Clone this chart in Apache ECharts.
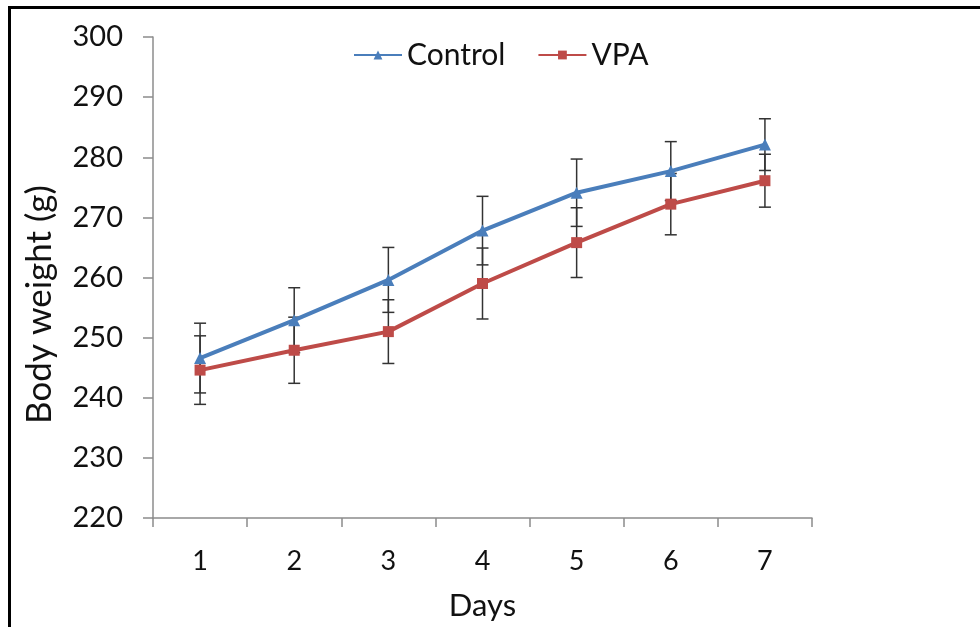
<!DOCTYPE html>
<html>
<head>
<meta charset="utf-8">
<script src="https://cdn.jsdelivr.net/npm/echarts@6/dist/echarts.min.js"></script>
<style>html,body{margin:0;padding:0;background:#fff}#c{width:980px;height:627px}</style>
</head>
<body>
<div id="c"></div>
<script>
var days = ['1','2','3','4','5','6','7'];
var controlMean = [246.6, 252.9, 259.6, 267.8, 274.1, 277.7, 282.1];
var controlErr  = [5.8, 5.4, 5.4, 5.7, 5.6, 4.9, 4.3];
var vpaMean = [244.6, 247.9, 251.0, 259.0, 265.8, 272.2, 276.1];
var vpaErr  = [5.7, 5.5, 5.3, 5.9, 5.8, 5.1, 4.4];

var FONT = 'Lato';
function errData(mean, err) {
  return mean.map(function (m, i) { return [i, m - err[i], m + err[i]]; });
}
function errRender(params, api) {
  var x = api.value(0);
  var lo = api.coord([x, api.value(1)]);
  var hi = api.coord([x, api.value(2)]);
  var w = 6;
  var st = { stroke: '#333', lineWidth: 1.5 };
  return {
    type: 'group',
    children: [
      { type: 'line', shape: { x1: hi[0], y1: hi[1], x2: lo[0], y2: lo[1] }, style: st },
      { type: 'line', shape: { x1: hi[0] - w, y1: hi[1], x2: hi[0] + w, y2: hi[1] }, style: st },
      { type: 'line', shape: { x1: lo[0] - w, y1: lo[1], x2: lo[0] + w, y2: lo[1] }, style: st }
    ]
  };
}
var chart = echarts.init(document.getElementById('c'));
chart.setOption({
  animation: false,
  textStyle: { fontFamily: FONT },
  graphic: [
    { type: 'line', shape: { x1: 8, y1: 7.5, x2: 980, y2: 7.5 }, style: { stroke: '#000', lineWidth: 3 } },
    { type: 'line', shape: { x1: 9.5, y1: 6, x2: 9.5, y2: 627 }, style: { stroke: '#000', lineWidth: 3 } }
  ],
  grid: { left: 153, right: 168, top: 37, bottom: 109 },
  legend: {
    top: 35, left: 348,
    itemWidth: 48, itemHeight: 11, itemGap: 32,
    textStyle: { fontSize: 30, color: '#111', fontFamily: FONT },
    data: ['Control', 'VPA']
  },
  xAxis: {
    type: 'category', data: days, boundaryGap: true,
    name: 'Days', nameLocation: 'middle', nameGap: 72,
    nameTextStyle: { fontSize: 31, color: '#111', fontFamily: FONT },
    axisLine: { lineStyle: { color: '#8c8c8c', width: 1.5 } },
    axisTick: { show: true, length: 9, lineStyle: { color: '#8c8c8c', width: 1.5 } },
    axisLabel: { fontSize: 27, color: '#111', margin: 30, fontFamily: FONT },
    splitLine: { show: false }
  },
  yAxis: {
    type: 'value', min: 220, max: 300, interval: 10,
    name: 'Body weight (g)', nameLocation: 'middle', nameGap: 96, nameRotate: 90,
    nameTextStyle: { fontSize: 35, color: '#111', fontFamily: FONT, padding: [0, 54, 0, 0] },
    axisLine: { show: true, lineStyle: { color: '#8c8c8c', width: 1.5 } },
    axisTick: { show: true, length: 10, lineStyle: { color: '#8c8c8c', width: 1.5 } },
    axisLabel: { fontSize: 29, color: '#111', margin: 30, fontFamily: FONT },
    splitLine: { show: false }
  },
  series: [
    { name: 'ControlErr', type: 'custom', renderItem: errRender, data: errData(controlMean, controlErr), z: 1, silent: true },
    { name: 'VPAErr', type: 'custom', renderItem: errRender, data: errData(vpaMean, vpaErr), z: 1, silent: true },
    {
      name: 'Control', type: 'line', data: controlMean, z: 3,
      symbol: 'triangle', symbolSize: 12,
      lineStyle: { color: '#4A7EBB', width: 4 },
      itemStyle: { color: '#4A7EBB' }
    },
    {
      name: 'VPA', type: 'line', data: vpaMean, z: 2,
      symbol: 'rect', symbolSize: 11,
      lineStyle: { color: '#BE4B48', width: 4 },
      itemStyle: { color: '#BE4B48' }
    }
  ]
});
</script>
</body>
</html>
